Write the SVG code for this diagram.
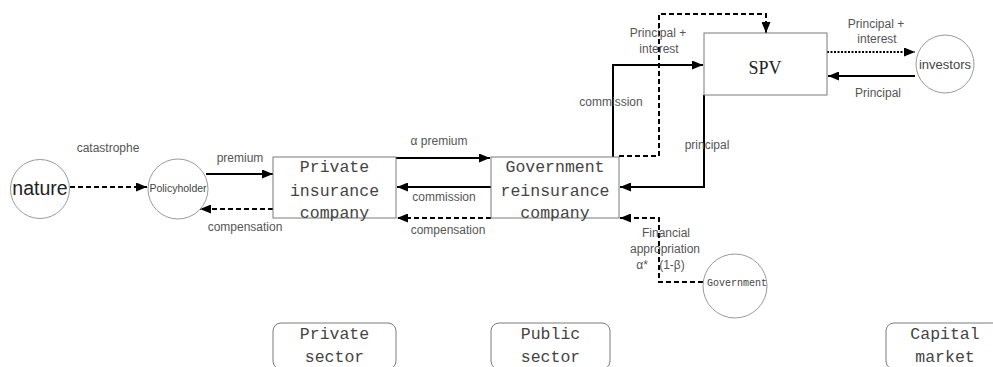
<svg xmlns="http://www.w3.org/2000/svg" width="993" height="367" viewBox="0 0 993 367">
<style>
.box{fill:#fff;stroke:#7a7a7a;stroke-width:1}
.circ{fill:#fff;stroke:#9a9a9a;stroke-width:1}
.mono{font-family:"Liberation Mono","DejaVu Sans Mono",monospace;fill:#444;text-anchor:middle}
.lbl{font-family:"Liberation Sans",Arial,sans-serif;font-size:12px;fill:#555;text-anchor:middle}
.sol{fill:none;stroke:#000;stroke-width:2}
.dash{fill:none;stroke:#000;stroke-width:2;stroke-dasharray:5 3}
.dot{fill:none;stroke:#000;stroke-width:2;stroke-dasharray:2 1.5}
</style>
<defs>
<marker id="ah" markerUnits="userSpaceOnUse" markerWidth="11" markerHeight="9" refX="11" refY="4.5" orient="auto">
<path d="M0,0 L11,4.5 L0,9 z" fill="#000"/>
</marker>
</defs>
<g id="connectors">
<line class="dash" x1="70" y1="187" x2="147" y2="187" marker-end="url(#ah)"/>
<line class="sol" x1="206" y1="174" x2="273" y2="174" marker-end="url(#ah)"/>
<line class="dash" x1="273" y1="209" x2="200" y2="209" marker-end="url(#ah)"/>
<line class="sol" x1="396" y1="158" x2="490" y2="158" marker-end="url(#ah)"/>
<line class="sol" x1="491" y1="187" x2="397" y2="187" marker-end="url(#ah)"/>
<line class="dash" x1="491" y1="218" x2="397" y2="218" marker-end="url(#ah)"/>
<polyline class="sol" points="613,173 613,65 703,65" marker-end="url(#ah)"/>
<polyline class="dash" points="619,156 659,156 659,14 766,14 766,33" marker-end="url(#ah)"/>
<polyline class="sol" points="704,95 704,187 620,187" marker-end="url(#ah)"/>
<polyline class="dash" points="703,282 659,282 659,218 620,218" marker-end="url(#ah)"/>
<line class="dot" x1="827" y1="52" x2="915" y2="52" marker-end="url(#ah)"/>
<line class="sol" x1="915" y1="76" x2="828" y2="76" marker-end="url(#ah)"/>
</g>
<g id="labels">
<text class="lbl" x="108" y="152">catastrophe</text>
<text class="lbl" x="240" y="162">premium</text>
<text class="lbl" x="245" y="231">compensation</text>
<text class="lbl" x="439" y="145">α premium</text>
<text class="lbl" x="444" y="201">commission</text>
<text class="lbl" x="448" y="234">compensation</text>
<text class="lbl" x="611" y="106">commission</text>
<text class="lbl" x="658" y="37">Principal +</text>
<text class="lbl" x="659" y="53">interest</text>
<text class="lbl" x="707" y="149">principal</text>
<text class="lbl" x="666" y="237">Financial</text>
<text class="lbl" x="665" y="253">appropriation</text>
<text class="lbl" y="269"><tspan x="642">α*</tspan><tspan x="672">(1-β)</tspan></text>
<text class="lbl" x="876" y="28">Principal +</text>
<text class="lbl" x="877" y="43">interest</text>
<text class="lbl" x="878" y="97">Principal</text>
</g>
<g id="nature">
<circle class="circ" cx="40" cy="189" r="29.5"/>
<text x="40" y="195" font-family="Liberation Sans,Arial,sans-serif" font-size="19.5" fill="#222" text-anchor="middle">nature</text>
</g>
<g id="policyholder">
<circle class="circ" cx="178" cy="189" r="30"/>
<text x="178" y="192" font-family="Liberation Sans,Arial,sans-serif" font-size="10.5" fill="#444" text-anchor="middle">Policyholder</text>
</g>
<g id="private-insurance">
<rect class="box" x="273" y="157" width="123" height="61"/>
<text class="mono" font-size="16.5" x="334.5" y="171.5">Private</text>
<text class="mono" font-size="16.5" x="334.5" y="195.5">insurance</text>
<text class="mono" font-size="16.5" x="334.5" y="218">company</text>
</g>
<g id="government-reinsurance">
<rect class="box" x="491" y="157" width="128" height="61"/>
<text class="mono" font-size="16.5" x="555" y="171.5">Government</text>
<text class="mono" font-size="16.5" x="555" y="195.5">reinsurance</text>
<text class="mono" font-size="16.5" x="555" y="218">company</text>
</g>
<g id="spv">
<rect class="box" x="704" y="33" width="123" height="62"/>
<text x="765" y="74" font-family="Liberation Serif,Times New Roman,serif" font-size="18" fill="#222" text-anchor="middle">SPV</text>
</g>
<g id="investors">
<circle class="circ" cx="945" cy="64" r="29"/>
<text x="945" y="69" font-family="Liberation Sans,Arial,sans-serif" font-size="13" fill="#444" text-anchor="middle">investors</text>
</g>
<g id="government">
<circle class="circ" cx="735" cy="286" r="32"/>
<text class="mono" font-size="10" x="737" y="285.5">Government</text>
</g>
<g id="private-sector">
<rect class="box" x="273" y="323" width="123" height="46" rx="8"/>
<text class="mono" font-size="16.5" x="334.5" y="339">Private</text>
<text class="mono" font-size="16.5" x="334.5" y="362">sector</text>
</g>
<g id="public-sector">
<rect class="box" x="491" y="323" width="119" height="46" rx="8"/>
<text class="mono" font-size="16.5" x="550.5" y="339">Public</text>
<text class="mono" font-size="16.5" x="550.5" y="362">sector</text>
</g>
<g id="capital-market">
<rect class="box" x="886" y="323" width="118" height="46" rx="8"/>
<text class="mono" font-size="16.5" x="945" y="339">Capital</text>
<text class="mono" font-size="16.5" x="945" y="362">market</text>
</g>
</svg>
